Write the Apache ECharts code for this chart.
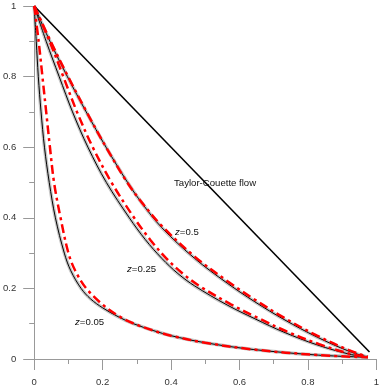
<!DOCTYPE html>
<html>
<head>
<meta charset="utf-8">
<script src="https://cdn.jsdelivr.net/npm/echarts@6/dist/echarts.min.js"></script>
<style>
  html, body { margin: 0; padding: 0; background: #fff; }
  #chart { width: 382px; height: 387px; }
</style>
</head>
<body>
<div id="chart"></div>
<script>
// data: [x, y]
var taylorCouette = [[0, 1], [0.98, 0.02]];

var z005Solid = [[0, 1], [0.006, 0.9], [0.012, 0.8], [0.02, 0.7], [0.03, 0.6], [0.044, 0.5], [0.062, 0.4],
  [0.088, 0.3], [0.107, 0.25], [0.137, 0.2], [0.165, 0.17], [0.2, 0.145], [0.245, 0.12], [0.29, 0.1],
  [0.35, 0.08], [0.4, 0.066], [0.5, 0.046], [0.64, 0.027], [0.83, 0.011], [0.975, 0.005]];
var z005Dash = [[0, 1], [0.013, 0.9], [0.024, 0.8], [0.035, 0.7], [0.046, 0.6], [0.058, 0.5], [0.077, 0.4],
  [0.1, 0.3], [0.12, 0.25], [0.152, 0.2], [0.205, 0.15], [0.25, 0.12], [0.292, 0.1],
  [0.35, 0.08], [0.4, 0.066], [0.5, 0.046], [0.64, 0.027], [0.83, 0.011], [0.975, 0.005]];

var z025Solid = [[0, 1], [0.035, 0.9], [0.073, 0.8], [0.112, 0.7], [0.157, 0.6], [0.211, 0.5], [0.278, 0.4],
  [0.325, 0.338], [0.373, 0.285], [0.42, 0.242], [0.469, 0.207], [0.564, 0.153], [0.645, 0.114],
  [0.73, 0.076], [0.827, 0.04], [0.92, 0.014], [0.975, 0.005]];
var z025Dash = [[0, 1], [0.045, 0.9], [0.085, 0.8], [0.125, 0.7], [0.171, 0.6], [0.226, 0.5], [0.292, 0.4],
  [0.339, 0.338], [0.386, 0.285], [0.433, 0.243], [0.481, 0.208], [0.575, 0.155], [0.655, 0.116],
  [0.738, 0.078], [0.833, 0.042], [0.922, 0.015], [0.975, 0.005]];

var z05Solid = [[0, 1], [0.046, 0.9], [0.097, 0.8], [0.152, 0.7], [0.21, 0.6], [0.273, 0.5], [0.316, 0.44],
  [0.373, 0.372], [0.469, 0.285], [0.564, 0.215], [0.645, 0.162], [0.73, 0.112], [0.827, 0.062],
  [0.92, 0.022], [0.975, 0.005]];
var z05Dash = [[0, 1], [0.048, 0.9], [0.099, 0.8], [0.153, 0.7], [0.21, 0.6], [0.272, 0.5], [0.315, 0.443],
  [0.373, 0.377], [0.469, 0.29], [0.564, 0.221], [0.645, 0.168], [0.73, 0.117], [0.827, 0.066],
  [0.92, 0.025], [0.975, 0.006]];

var curveLabels = ["Taylor-Couette flow", "=0.5", "=0.25", "=0.05"];

var font = "'Liberation Sans', Arial, sans-serif";

function grayLine(data) {
  return {
    type: "line", data: data, showSymbol: false, smooth: 0.35, z: 1,
    lineStyle: { color: "rgba(160,160,160,0.6)", width: 3.5 }
  };
}
function blackLine(data, w) {
  return {
    type: "line", data: data, showSymbol: false, smooth: 0.35, z: 2,
    lineStyle: { color: "#000", width: w || 1 }
  };
}
function redLine(data) {
  return {
    type: "line", data: data, showSymbol: false, smooth: 0.35, z: 3,
    lineStyle: { color: "#ff0000", width: 2.5, type: [9, 4, 3, 4] }
  };
}

var axisCommon = {
  type: "value",
  min: 0,
  max: 1,
  interval: 0.2,
  axisLine: { show: true, lineStyle: { color: "#999", width: 1 } },
  axisTick: { show: true, length: 11, lineStyle: { color: "#999" } },
  minorTick: { show: true, splitNumber: 2, length: 5, lineStyle: { color: "#999" } },
  splitLine: { show: false },
  axisLabel: { color: "#333", fontSize: 9.5, fontFamily: font, margin: 18 }
};

var chart = echarts.init(document.getElementById("chart"));
chart.setOption({
  animation: false,
  backgroundColor: "#fff",
  grid: { left: 33, right: 1, top: 6, bottom: 28 },
  xAxis: axisCommon,
  yAxis: axisCommon,
  series: [
    grayLine(z005Solid), grayLine(z025Solid), grayLine(z05Solid),
    blackLine(z005Solid), blackLine(z025Solid), blackLine(z05Solid),
    redLine(z005Dash), redLine(z025Dash), redLine(z05Dash),
    blackLine(taylorCouette, 1.6)
  ],
  graphic: [
    { type: "text", left: 174, top: 178, style: { text: curveLabels[0], fill: "#111", font: "9.6px " + font } },
    { type: "text", left: 175, top: 227, style: { text: "{i|z}" + curveLabels[1], fill: "#111", font: "9.6px " + font,
      rich: { i: { fontStyle: "italic", fontSize: 9.6, fontFamily: font, fill: "#111" } } } },
    { type: "text", left: 127, top: 264, style: { text: "{i|z}" + curveLabels[2], fill: "#111", font: "9.6px " + font,
      rich: { i: { fontStyle: "italic", fontSize: 9.6, fontFamily: font, fill: "#111" } } } },
    { type: "text", left: 75, top: 317, style: { text: "{i|z}" + curveLabels[3], fill: "#111", font: "9.6px " + font,
      rich: { i: { fontStyle: "italic", fontSize: 9.6, fontFamily: font, fill: "#111" } } } }
  ]
});
</script>
</body>
</html>
